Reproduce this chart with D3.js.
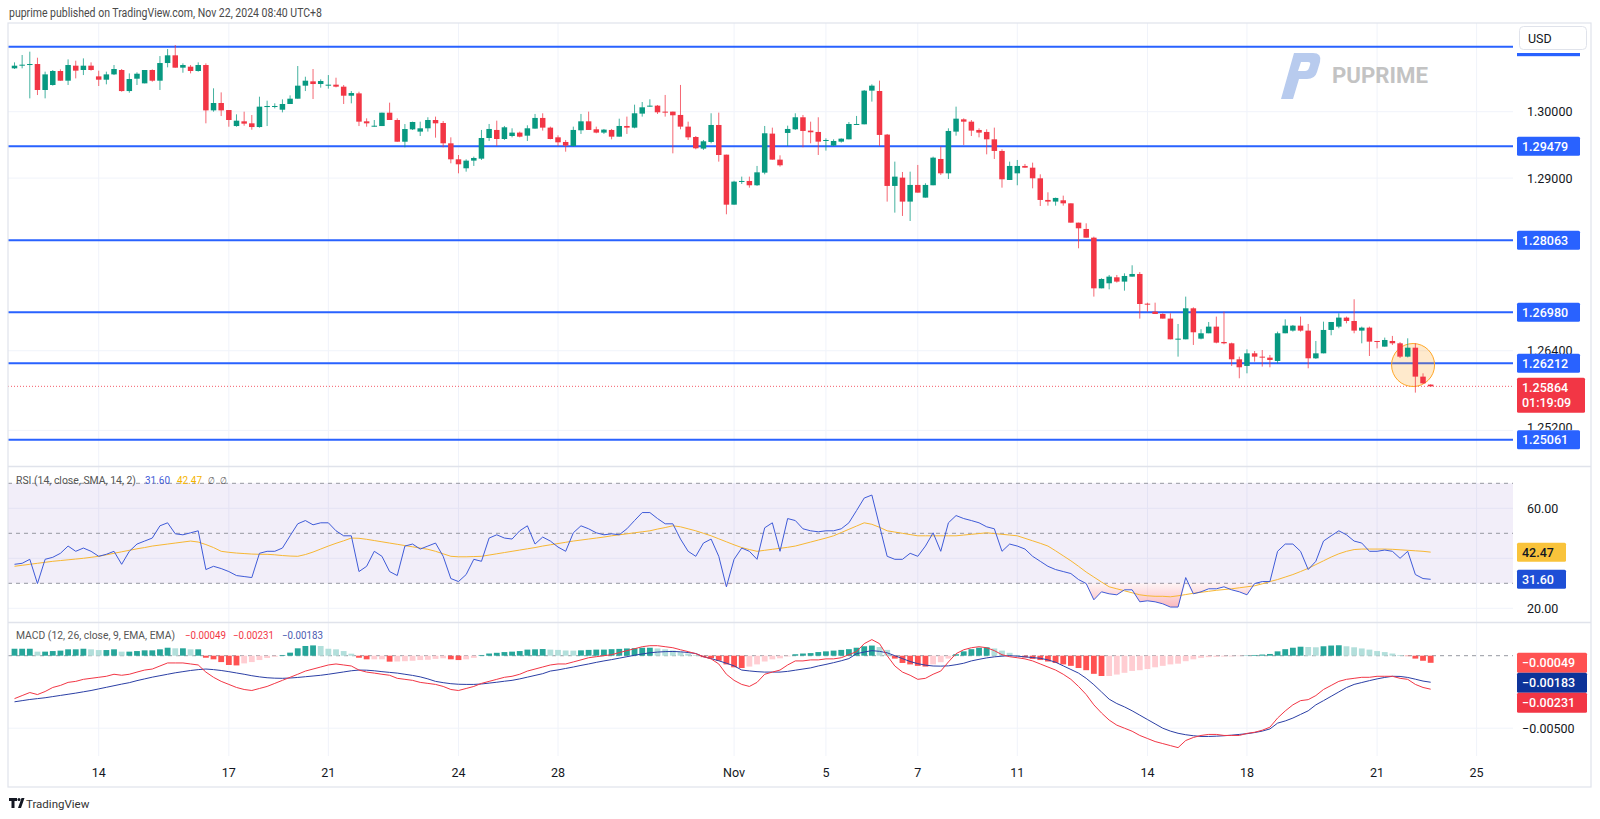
<!DOCTYPE html>
<html><head><meta charset="utf-8">
<script src="https://cdn.jsdelivr.net/npm/d3@7"></script>
<style>body{margin:0;background:#fff}svg{display:block;font-family:Roboto,"Noto Sans",sans-serif}</style>
</head><body><svg id="c" width="1600" height="819"></svg>
<script>
// ---------------- DATA (4H candles, GBPUSD) ----------------
const opens=[
1.30653,1.30698,1.30708,1.30718,1.30327,1.30402,1.30613,1.30467,1.30693,1.30628,
1.30693,1.30532,1.30482,1.30562,1.30628,1.30311,1.30497,1.30427,1.30628,1.30467,
1.30733,1.30849,1.30663,1.30678,1.30613,1.30703,1.30020,1.30131,1.30025,1.29784,
1.29855,1.29825,1.29769,1.30070,1.30081,1.30030,1.30116,1.30196,1.30392,1.30457,
1.30417,1.30402,1.30407,1.30377,1.30241,1.30276,1.29855,1.29779,1.29784,1.29985,
1.29875,1.29548,1.29734,1.29700,1.29750,1.29875,1.29830,1.29524,1.29283,1.29148,
1.29263,1.29293,1.29604,1.29725,1.29589,1.29634,1.29685,1.29639,1.29745,1.29906,
1.29760,1.29614,1.29544,1.29484,1.29720,1.29855,1.29735,1.29685,1.29725,1.29624,
1.29785,1.29760,1.29971,1.30076,1.30091,1.30001,1.30001,1.29951,1.29775,1.29619,
1.29444,1.29544,1.29800,1.29353,1.28600,1.28942,1.28957,1.28892,1.29082,1.29670,
1.29278,1.29680,1.29735,1.29916,1.29715,1.29695,1.29564,1.29489,1.29549,1.29584,
1.29805,1.29810,1.30317,1.30312,1.29655,1.28882,1.29007,1.28646,1.28897,1.28706,
1.28892,1.29288,1.29072,1.29700,1.29885,1.29850,1.29725,1.29695,1.29584,1.29409,
1.28972,1.29072,1.29183,1.29157,1.28997,1.28671,1.28646,1.28666,1.28620,1.28329,
1.28234,1.28103,1.27340,1.27416,1.27506,1.27441,1.27516,1.27556,1.27109,1.26989,
1.26954,1.26884,1.26572,1.26572,1.27039,1.26582,1.26663,1.26763,1.26532,1.26512,
1.26271,1.26171,1.26361,1.26311,1.26296,1.26246,1.26663,1.26703,1.26778,1.26703,
1.26286,1.26361,1.26713,1.26763,1.26899,1.26848,1.26703,1.26748,1.26547,1.26462,
1.26547,1.26512,1.26311,1.26446,1.26010,1.25890];
const highs=[
1.30743,1.30854,1.30904,1.30813,1.30603,1.30628,1.30638,1.30788,1.30768,1.30803,
1.30743,1.30618,1.30603,1.30703,1.30643,1.30577,1.30593,1.30628,1.30638,1.30838,
1.30944,1.31004,1.30728,1.30703,1.30743,1.30728,1.30352,1.30291,1.30025,1.29960,
1.30000,1.29950,1.30226,1.30166,1.30126,1.30186,1.30246,1.30688,1.30527,1.30643,
1.30487,1.30552,1.30512,1.30402,1.30311,1.30301,1.29900,1.29875,1.29985,1.30136,
1.29900,1.29814,1.29850,1.29850,1.29916,1.29926,1.29860,1.29614,1.29348,1.29283,
1.29323,1.29725,1.29815,1.29865,1.29785,1.29750,1.29700,1.29795,1.29966,1.29976,
1.29775,1.29644,1.29574,1.29775,1.29966,1.30001,1.29775,1.29740,1.29740,1.29895,
1.29926,1.30106,1.30146,1.30187,1.30101,1.30252,1.30001,1.30403,1.29850,1.29634,
1.29574,1.29976,1.29986,1.29353,1.28960,1.29022,1.29022,1.29183,1.29785,1.29760,
1.29343,1.29790,1.29976,1.29951,1.29850,1.29916,1.29599,1.29584,1.29599,1.29845,
1.29936,1.30327,1.30412,1.30468,1.29665,1.29248,1.29092,1.29097,1.29198,1.28922,
1.29323,1.29474,1.29750,1.30076,1.29900,1.29875,1.29750,1.29735,1.29760,1.29434,
1.29248,1.29273,1.29213,1.29233,1.29057,1.28786,1.28706,1.28736,1.28620,1.28329,
1.28319,1.28118,1.27491,1.27541,1.27541,1.27566,1.27687,1.27586,1.27124,1.27124,
1.26964,1.26964,1.26803,1.27215,1.27054,1.26723,1.26833,1.26914,1.26989,1.26522,
1.26311,1.26421,1.26396,1.26411,1.26336,1.26688,1.26873,1.26788,1.26914,1.26803,
1.26547,1.26838,1.26833,1.26964,1.26914,1.27175,1.26763,1.26763,1.26547,1.26598,
1.26623,1.26530,1.26587,1.26512,1.26060,1.25895];
const lows=[
1.30643,1.30653,1.30201,1.30251,1.30201,1.30392,1.30467,1.30402,1.30502,1.30552,
1.30618,1.30387,1.30412,1.30552,1.30301,1.30286,1.30402,1.30427,1.30452,1.30327,
1.30668,1.30663,1.30587,1.30577,1.30603,1.29825,1.30000,1.29935,1.29774,1.29774,
1.29789,1.29729,1.29759,1.29784,1.30050,1.29990,1.30116,1.30196,1.30311,1.30191,
1.30362,1.30347,1.30367,1.30116,1.30126,1.29784,1.29774,1.29774,1.29784,1.29875,
1.29548,1.29463,1.29724,1.29634,1.29700,1.29609,1.29464,1.29223,1.29072,1.29097,
1.29183,1.29273,1.29559,1.29484,1.29574,1.29614,1.29614,1.29559,1.29745,1.29715,
1.29584,1.29484,1.29398,1.29474,1.29665,1.29725,1.29675,1.29665,1.29584,1.29624,
1.29665,1.29750,1.29926,1.30076,1.29966,1.29926,1.29373,1.29735,1.29574,1.29434,
1.29424,1.29524,1.29248,1.28455,1.28600,1.28912,1.28856,1.28882,1.29057,1.29278,
1.29173,1.29484,1.29725,1.29464,1.29524,1.29348,1.29414,1.29484,1.29534,1.29584,
1.29800,1.29810,1.30152,1.29484,1.28646,1.28480,1.28430,1.28354,1.28781,1.28706,
1.28892,1.29047,1.28987,1.29639,1.29499,1.29634,1.29614,1.29358,1.29288,1.28856,
1.28972,1.28892,1.29157,1.28846,1.28580,1.28585,1.28585,1.28585,1.28329,1.27943,
1.28103,1.27215,1.27340,1.27325,1.27426,1.27305,1.27516,1.26884,1.26989,1.26954,
1.26884,1.26572,1.26311,1.26572,1.26487,1.26572,1.26663,1.26512,1.26497,1.26171,
1.25985,1.26060,1.26236,1.26161,1.26151,1.26211,1.26663,1.26688,1.26688,1.26136,
1.26276,1.26361,1.26633,1.26738,1.26813,1.26663,1.26512,1.26321,1.26436,1.26462,
1.26487,1.26290,1.26300,1.25769,1.25899,1.25860];
const closes=[
1.30693,1.30708,1.30718,1.30327,1.30562,1.30613,1.30467,1.30703,1.30618,1.30693,
1.30628,1.30482,1.30562,1.30643,1.30311,1.30492,1.30572,1.30628,1.30467,1.30733,
1.30849,1.30663,1.30703,1.30613,1.30703,1.30020,1.30131,1.30020,1.29875,1.29865,
1.29820,1.29769,1.30076,1.30086,1.30086,1.30116,1.30196,1.30392,1.30467,1.30417,
1.30462,1.30407,1.30377,1.30241,1.30281,1.29850,1.29825,1.29789,1.29985,1.29875,
1.29548,1.29739,1.29845,1.29750,1.29875,1.29825,1.29524,1.29283,1.29208,1.29263,
1.29303,1.29604,1.29740,1.29589,1.29765,1.29685,1.29624,1.29750,1.29906,1.29760,
1.29589,1.29539,1.29489,1.29725,1.29855,1.29725,1.29685,1.29730,1.29624,1.29785,
1.29760,1.29976,1.30066,1.30091,1.29991,1.29991,1.29946,1.29775,1.29614,1.29449,
1.29554,1.29800,1.29348,1.28600,1.28947,1.28957,1.28892,1.29087,1.29675,1.29278,
1.29193,1.29740,1.29916,1.29710,1.29690,1.29549,1.29574,1.29559,1.29594,1.29815,
1.29815,1.30317,1.30392,1.29650,1.28882,1.29022,1.28646,1.28897,1.28781,1.28897,
1.29308,1.29072,1.29710,1.29895,1.29850,1.29715,1.29685,1.29584,1.29409,1.28982,
1.29183,1.29183,1.29157,1.28997,1.28671,1.28646,1.28701,1.28620,1.28329,1.28244,
1.28103,1.27340,1.27481,1.27516,1.27441,1.27526,1.27556,1.27104,1.27094,1.26954,
1.26884,1.26572,1.26582,1.27039,1.26678,1.26663,1.26763,1.26522,1.26512,1.26271,
1.26151,1.26361,1.26311,1.26296,1.26261,1.26663,1.26778,1.26778,1.26703,1.26286,
1.26361,1.26713,1.26833,1.26899,1.26848,1.26703,1.26748,1.26537,1.26532,1.26562,
1.26512,1.26311,1.26446,1.26010,1.25909,1.25864];

const rsiValues=[
37.6,38,39.6,29.9,39.6,40.4,42,44.9,42.8,44.1,
42.8,40.8,41.6,42.8,37.6,42.8,45.7,46.9,48.1,53,
54.2,49.8,49.4,50.2,51,35.5,36.8,35.9,34.7,33.1,
32.7,32.3,42,42.8,42.8,44.1,49,53.8,55.1,53.4,
54.2,54.2,51,49,49,34.7,36.8,42.8,40.8,34.7,
33.1,44.9,45.7,43.7,44.9,46.1,40.8,31.9,30.7,33.5,
39.6,38.8,48.1,49.4,48.1,47.7,51,53,45.7,48.5,
46.9,44.5,42.8,50.2,53,51.8,50.2,49.4,49.8,49.4,
51.8,55.1,58.3,58.3,55.9,53.8,53.8,47.7,42.8,40.8,
46.1,47.7,40.8,28.6,39.6,44.1,42.8,39.6,52.2,54.2,
42.8,55.9,55.1,51.8,51,50.6,51,51,51.8,54.2,
59.1,64.1,65.3,53,40.8,39.6,39.6,42,40.8,44.9,
50.2,42.8,54.2,57.1,55.9,55.1,54.2,52.6,51.8,42.8,
45.7,44.9,43.7,40.8,38.8,36.8,35.5,34.7,33.9,31.5,
29.9,23.4,26.6,25.8,25.4,27.4,27.4,22.6,23,22.6,
21.8,20.5,20.5,32.3,25.8,26.6,27.8,27.8,28.6,27.4,
26.6,25.4,29.9,30.7,30.7,42.8,45.7,45.7,42.8,35.5,
38.8,46.9,49,51,49.4,46.9,46.1,42.8,42.8,43.3,
42.8,40,42.8,33.5,31.9,31.6];
const rsiMA=[
36.8,37.2,37.6,38,38.4,38.8,39.1,39.4,39.7,40,
40.4,40.8,41.4,42,42.6,43.2,43.8,44.3,44.9,45.3,
45.7,46.1,46.5,46.9,46.5,45.5,44.3,42.8,42.4,42.1,
41.9,41.7,41.6,41.6,41.4,41.1,40.9,40.8,41.5,42.5,
43.7,44.9,46,47,48.1,48,47.6,47.1,46.6,46.1,
45.6,45.1,44.6,44.1,43.6,42.8,41.8,40.8,40.6,40.6,
40.7,40.8,41.3,41.8,42.3,42.8,43.3,43.8,44.3,44.9,
45.4,45.9,46.4,46.9,47.3,47.7,48.1,48.5,49,49.4,
49.8,50.2,50.6,51,51.7,52.3,53,52.6,51.8,51,
50,49,47.8,46.6,45.4,44.3,43.5,42.8,43.2,43.6,
44,44.4,44.9,45.7,46.5,47.3,48.1,49,50.3,51.6,
52.9,54.2,53.6,52.4,51,50.5,50,49.5,49,49,
49,49,49,49,49.3,49.6,49.9,50.2,49.9,49.6,
49.3,49,48,47,46,44.9,43,41,39,36.8,
34.5,32.5,30.5,28.6,27.8,27,26.2,25.4,25,24.8,
24.8,24.6,25,25.5,26,26.4,26.8,27.2,27.5,27.8,
28.2,28.6,29,29.8,30.7,31.5,32.5,33.5,34.7,36,
37.5,39,40.5,41.8,42.8,43.5,43.7,43.7,43.7,43.7,
43.6,43.4,43.2,43,42.8,42.47];

const macdLine=[
-0.00296,-0.00275,-0.00254,-0.00268,-0.00247,-0.00219,-0.00205,-0.00184,-0.00177,-0.00163,
-0.00156,-0.00149,-0.00142,-0.00128,-0.00135,-0.00128,-0.00113,-0.00099,-0.00092,-0.00071,
-0.00050,-0.00050,-0.00050,-0.00057,-0.00064,-0.00113,-0.00149,-0.00177,-0.00198,-0.00219,
-0.00233,-0.00240,-0.00226,-0.00212,-0.00191,-0.00170,-0.00149,-0.00128,-0.00106,-0.00092,
-0.00078,-0.00064,-0.00057,-0.00064,-0.00071,-0.00099,-0.00113,-0.00120,-0.00128,-0.00135,
-0.00156,-0.00163,-0.00170,-0.00184,-0.00191,-0.00198,-0.00212,-0.00233,-0.00240,-0.00226,
-0.00212,-0.00191,-0.00177,-0.00163,-0.00149,-0.00142,-0.00128,-0.00106,-0.00092,-0.00078,
-0.00064,-0.00057,-0.00057,-0.00043,-0.00029,-0.00014,-0.00007,0.00000,0.00007,0.00021,
0.00035,0.00048,0.00062,0.00069,0.00069,0.00062,0.00055,0.00041,0.00028,0.00014,
-0.00007,-0.00022,-0.00057,-0.00128,-0.00170,-0.00198,-0.00212,-0.00184,-0.00128,-0.00113,
-0.00099,-0.00064,-0.00036,-0.00036,-0.00029,-0.00029,-0.00022,-0.00022,-0.00014,0.00007,
0.00028,0.00083,0.00111,0.00083,0.00000,-0.00071,-0.00113,-0.00135,-0.00163,-0.00156,
-0.00128,-0.00106,-0.00043,0.00014,0.00041,0.00055,0.00062,0.00055,0.00035,0.00007,
-0.00007,-0.00014,-0.00022,-0.00036,-0.00057,-0.00078,-0.00099,-0.00128,-0.00163,-0.00212,
-0.00268,-0.00339,-0.00395,-0.00444,-0.00479,-0.00500,-0.00521,-0.00550,-0.00571,-0.00592,
-0.00606,-0.00620,-0.00634,-0.00585,-0.00564,-0.00550,-0.00543,-0.00543,-0.00550,-0.00550,
-0.00550,-0.00536,-0.00528,-0.00514,-0.00493,-0.00430,-0.00381,-0.00339,-0.00310,-0.00303,
-0.00275,-0.00233,-0.00205,-0.00177,-0.00163,-0.00156,-0.00149,-0.00149,-0.00142,-0.00142,
-0.00142,-0.00156,-0.00163,-0.00198,-0.00219,-0.00231];
const signalLine=[
-0.00318,-0.00310,-0.00302,-0.00296,-0.00290,-0.00282,-0.00274,-0.00266,-0.00258,-0.00249,
-0.00240,-0.00229,-0.00218,-0.00207,-0.00196,-0.00186,-0.00172,-0.00160,-0.00148,-0.00138,
-0.00128,-0.00118,-0.00110,-0.00102,-0.00096,-0.00092,-0.00096,-0.00102,-0.00110,-0.00119,
-0.00128,-0.00138,-0.00146,-0.00152,-0.00155,-0.00156,-0.00154,-0.00150,-0.00145,-0.00140,
-0.00135,-0.00128,-0.00120,-0.00112,-0.00104,-0.00099,-0.00100,-0.00104,-0.00110,-0.00115,
-0.00120,-0.00128,-0.00136,-0.00146,-0.00160,-0.00177,-0.00186,-0.00193,-0.00197,-0.00198,
-0.00198,-0.00195,-0.00189,-0.00183,-0.00176,-0.00170,-0.00160,-0.00148,-0.00136,-0.00124,
-0.00106,-0.00098,-0.00088,-0.00078,-0.00067,-0.00057,-0.00046,-0.00036,-0.00027,-0.00017,
-0.00007,0.00003,0.00012,0.00020,0.00025,0.00028,0.00029,0.00027,0.00022,0.00015,
-0.00007,-0.00020,-0.00035,-0.00052,-0.00070,-0.00099,-0.00105,-0.00110,-0.00113,-0.00113,
-0.00113,-0.00108,-0.00100,-0.00092,-0.00084,-0.00071,-0.00060,-0.00048,-0.00035,-0.00020,
0.00014,0.00025,0.00035,0.00030,0.00020,0.00000,-0.00020,-0.00040,-0.00055,-0.00065,
-0.00071,-0.00072,-0.00070,-0.00062,-0.00052,-0.00036,-0.00025,-0.00015,-0.00008,-0.00003,
0.00000,-0.00003,-0.00008,-0.00013,-0.00018,-0.00029,-0.00045,-0.00070,-0.00095,-0.00120,
-0.00156,-0.00200,-0.00250,-0.00300,-0.00330,-0.00353,-0.00380,-0.00410,-0.00440,-0.00470,
-0.00500,-0.00520,-0.00535,-0.00545,-0.00552,-0.00557,-0.00557,-0.00555,-0.00552,-0.00548,
-0.00543,-0.00538,-0.00530,-0.00520,-0.00505,-0.00465,-0.00450,-0.00430,-0.00405,-0.00380,
-0.00339,-0.00310,-0.00280,-0.00250,-0.00220,-0.00198,-0.00185,-0.00172,-0.00160,-0.00150,
-0.00142,-0.00143,-0.00150,-0.00162,-0.00175,-0.00183];
const histogram=[
0.00048,0.00048,0.00048,0.00028,0.00028,0.00032,0.00035,0.00044,0.00044,0.00048,
0.00044,0.00039,0.00039,0.00044,0.00028,0.00028,0.00032,0.00037,0.00037,0.00044,
0.00055,0.00051,0.00051,0.00044,0.00044,-0.00014,-0.00025,-0.00044,-0.00064,-0.00067,
-0.00053,-0.00044,-0.00030,-0.00016,-0.00007,0.00005,0.00021,0.00051,0.00067,0.00071,
0.00067,0.00048,0.00044,0.00032,0.00014,-0.00014,-0.00025,-0.00025,-0.00025,-0.00041,
-0.00040,-0.00038,-0.00035,-0.00030,-0.00028,-0.00022,-0.00018,-0.00025,-0.00030,-0.00025,
-0.00015,0.00005,0.00015,0.00020,0.00025,0.00028,0.00032,0.00042,0.00044,0.00046,
0.00042,0.00040,0.00036,0.00035,0.00037,0.00040,0.00042,0.00042,0.00045,0.00047,
0.00050,0.00052,0.00055,0.00055,0.00050,0.00044,0.00036,0.00025,0.00015,0.00005,
-0.00010,-0.00018,-0.00035,-0.00060,-0.00080,-0.00085,-0.00075,-0.00060,-0.00040,-0.00025,
-0.00018,-0.00005,0.00010,0.00015,0.00018,0.00025,0.00030,0.00035,0.00040,0.00045,
0.00055,0.00065,0.00070,0.00060,0.00040,-0.00020,-0.00050,-0.00060,-0.00070,-0.00075,
-0.00060,-0.00045,-0.00020,0.00010,0.00030,0.00045,0.00055,0.00058,0.00050,0.00035,
0.00020,0.00005,-0.00012,-0.00022,-0.00030,-0.00040,-0.00050,-0.00060,-0.00070,-0.00085,
-0.00100,-0.00125,-0.00140,-0.00140,-0.00130,-0.00118,-0.00105,-0.00100,-0.00092,-0.00080,
-0.00070,-0.00060,-0.00055,-0.00038,-0.00025,-0.00015,-0.00010,-0.00008,-0.00006,-0.00005,
-0.00003,0.00002,0.00005,0.00008,0.00012,0.00030,0.00045,0.00055,0.00062,0.00060,
0.00058,0.00065,0.00070,0.00072,0.00065,0.00058,0.00050,0.00042,0.00032,0.00025,
0.00015,0.00005,-0.00003,-0.00020,-0.00035,-0.00049];

const levels=[1.30979,1.29479,1.28063,1.26980,1.26212,1.25061];
const lastPrice=1.25864, countdown="01:19:09";
const circleIdx=182.7, circlePrice=1.26185;
const priceTicks=[1.30,1.29,1.264,1.252];
const rsiTicks=[60,20];
const macdTicks=[-0.005];
const dateTickIdx=[11,28,41,58,71,94,106,118,131,148,161,178,191];
const dateLabels=["14","17","21","24","28","Nov","5","7","11","14","18","21","25"];

// ---------------- LAYOUT ----------------
const svg=d3.select("#c");
const L=8,R=1513,FR=1591;
const P={t:23,b:466}, RS={t:467,b:622}, MC={t:623,b:756}, FB=787;
const x=d3.scaleLinear().domain([0,185]).range([14.5,14.5+185*7.655]);
const yP=d3.scaleLinear().domain([1.25,1.31]).range([443.7,45.3]);
const yR=d3.scaleLinear().domain([20,70]).range([608.3,483.3]);
const yM=d3.scaleLinear().domain([-0.005,0]).range([728.2,655.7]);
const GREEN="#089981",RED="#f23645",BLUE="#2962ff",GRID="#f0f3fa",TXT="#131722";
const idx=d3.range(closes.length);
const f5=d3.format(".5f");
const defs=svg.append("defs");
[["cp",P],["cr",RS],["cm",MC]].forEach(([id,p])=>defs.append("clipPath").attr("id",id)
  .append("rect").attr("x",L).attr("y",p.t).attr("width",R-L).attr("height",p.b-p.t));
const g1=defs.append("linearGradient").attr("id","os").attr("x1",0).attr("x2",0).attr("y1",0).attr("y2",1);
g1.append("stop").attr("offset","0%").attr("stop-color","rgba(242,54,69,0.05)");
g1.append("stop").attr("offset","100%").attr("stop-color","rgba(242,54,69,0.35)");

svg.append("rect").attr("width",1600).attr("height",819).attr("fill","#fff");

// gridlines
const grid=svg.append("g");
grid.selectAll("line.v").data(dateTickIdx).join("line")
  .attr("x1",d=>x(d)).attr("x2",d=>x(d)).attr("y1",P.t).attr("y2",MC.b)
  .attr("stroke",GRID).attr("stroke-width",1);
grid.selectAll("line.hp").data(priceTicks).join("line").attr("class","hp")
  .attr("x1",L).attr("x2",R).attr("y1",d=>yP(d)).attr("y2",d=>yP(d)).attr("stroke",GRID);
grid.selectAll("line.hr").data([20,40,60]).join("line").attr("class","hr")
  .attr("x1",L).attr("x2",R).attr("y1",d=>yR(d)).attr("y2",d=>yR(d)).attr("stroke",GRID);
grid.append("line").attr("x1",L).attr("x2",R).attr("y1",yM(-0.005)).attr("y2",yM(-0.005)).attr("stroke",GRID);

// ---------------- PRICE PANE ----------------
const pp=svg.append("g").attr("clip-path","url(#cp)");
pp.append("line").attr("x1",L).attr("x2",R).attr("y1",yP(lastPrice)).attr("y2",yP(lastPrice))
  .attr("stroke",RED).attr("stroke-dasharray","1,2").attr("opacity",0.8);
pp.selectAll("line.lvl").data(levels).join("line").attr("class","lvl")
  .attr("x1",L).attr("x2",R).attr("y1",d=>yP(d)).attr("y2",d=>yP(d))
  .attr("stroke",BLUE).attr("stroke-width",2);
pp.append("circle").attr("cx",x(circleIdx)).attr("cy",yP(circlePrice)).attr("r",21.5)
  .attr("fill","rgba(255,152,0,0.2)").attr("stroke","#ffa726").attr("stroke-width",1);
const cg=pp.selectAll("g.c").data(idx).join("g");
cg.append("line").attr("x1",i=>x(i)).attr("x2",i=>x(i))
  .attr("y1",i=>yP(highs[i])).attr("y2",i=>yP(lows[i]))
  .attr("stroke",i=>closes[i]>=opens[i]?GREEN:RED).attr("stroke-width",1).attr("opacity",0.75);
cg.append("rect").attr("x",i=>x(i)-2.75).attr("width",5.5)
  .attr("y",i=>yP(Math.max(opens[i],closes[i])))
  .attr("height",i=>Math.max(1,yP(Math.min(opens[i],closes[i]))-yP(Math.max(opens[i],closes[i]))))
  .attr("fill",i=>closes[i]>=opens[i]?GREEN:RED);

// watermark
const wm=svg.append("g");
wm.append("path").attr("d","M1281,99 L1294,53 L1313,53 Q1322,53 1320,62 L1317,72 Q1315,79 1307,79 L1299,79 L1293,99 Z M1301,62 L1298,71 L1305,71 Q1308,71 1309,68 L1310,65 Q1311,62 1308,62 Z")
  .attr("fill","#b8cbee").attr("fill-rule","evenodd");
wm.append("text").attr("x",1332).attr("y",83).attr("font-size",22).attr("font-weight",700)
  .attr("fill","#c3c3c3").attr("textLength",96).attr("lengthAdjust","spacingAndGlyphs").text("PUPRIME");

// ---------------- RSI PANE ----------------
const rp=svg.append("g").attr("clip-path","url(#cr)");
rp.append("rect").attr("x",L).attr("width",R-L).attr("y",yR(70)).attr("height",yR(30)-yR(70))
  .attr("fill","rgba(126,87,194,0.1)");
rp.selectAll("line.d").data([70,50,30]).join("line")
  .attr("x1",L).attr("x2",R).attr("y1",d=>yR(d)).attr("y2",d=>yR(d))
  .attr("stroke","#9598a1").attr("stroke-dasharray","4,4");
rp.append("path").datum(idx)
  .attr("d",d3.area().x(i=>x(i)).y0(yR(30)).y1(i=>yR(Math.min(30,rsiValues[i]))))
  .attr("fill","url(#os)");
rp.append("path").datum(idx).attr("d",d3.line().x(i=>x(i)).y(i=>yR(rsiMA[i])))
  .attr("fill","none").attr("stroke","#f7b733").attr("stroke-width",1);
rp.append("path").datum(idx).attr("d",d3.line().x(i=>x(i)).y(i=>yR(rsiValues[i])))
  .attr("fill","none").attr("stroke","#3f5bd8").attr("stroke-width",1);

// ---------------- MACD PANE ----------------
const mp=svg.append("g").attr("clip-path","url(#cm)");
mp.append("line").attr("x1",L).attr("x2",R).attr("y1",yM(0)).attr("y2",yM(0))
  .attr("stroke","#9598a1").attr("stroke-dasharray","4,4");
function hcol(i){const v=histogram[i],p=i>0?histogram[i-1]:v;
  return v>=0?(v>=p?"#26a69a":"#b2dfdb"):(v<p?"#ff5252":"#ffcdd2");}
mp.selectAll("rect.h").data(idx).join("rect")
  .attr("x",i=>x(i)-2.9).attr("width",5.8)
  .attr("y",i=>Math.min(yM(0),yM(histogram[i])))
  .attr("height",i=>Math.abs(yM(histogram[i])-yM(0)))
  .attr("fill",hcol);
mp.append("path").datum(idx).attr("d",d3.line().x(i=>x(i)).y(i=>yM(signalLine[i])))
  .attr("fill","none").attr("stroke","#2b3fa5").attr("stroke-width",1);
mp.append("path").datum(idx).attr("d",d3.line().x(i=>x(i)).y(i=>yM(macdLine[i])))
  .attr("fill","none").attr("stroke","#f23645").attr("stroke-width",1);

// ---------------- FRAME ----------------
const fr=svg.append("g").attr("fill","none").attr("stroke","#e0e3eb");
fr.append("rect").attr("x",L).attr("y",P.t).attr("width",FR-L).attr("height",FB-P.t).attr("stroke-width",1.2);
fr.append("line").attr("x1",L).attr("x2",FR).attr("y1",P.b+0.5).attr("y2",P.b+0.5).attr("stroke-width",1.5);
fr.append("line").attr("x1",L).attr("x2",FR).attr("y1",RS.b+0.5).attr("y2",RS.b+0.5).attr("stroke-width",1.5);

// ---------------- AXES TEXT ----------------
// clip for tick labels partly hidden behind the line tags
defs.append("clipPath").attr("id","ca").append("rect").attr("x",1515).attr("y",P.t).attr("width",80)
  .attr("height",yP(1.25061)-9.5-P.t);
const ax=svg.append("g").attr("font-size",12.5).attr("fill",TXT);
ax.append("g").attr("clip-path","url(#ca)").selectAll("text.pt").data(priceTicks).join("text")
  .attr("x",1527).attr("y",d=>yP(d)+(d<1.255?1.8:4.5)).text(d=>f5(d));
ax.selectAll("text.rt").data(rsiTicks).join("text").attr("x",1527).attr("y",d=>yR(d)+4.5).text(d=>d.toFixed(2));
ax.selectAll("text.mt").data(macdTicks).join("text").attr("x",1522).attr("y",d=>yM(d)+4.5).text(d=>"\u2212"+f5(-d));
ax.selectAll("text.dt").data(dateTickIdx).join("text").attr("x",d=>x(d)).attr("y",777)
  .attr("text-anchor","middle").text((d,i)=>dateLabels[i]);

function tag(y,h,w,bg,lines,fg){
  const gg=svg.append("g");
  gg.append("rect").attr("x",1517).attr("y",y-h/2).attr("width",w).attr("height",h).attr("fill",bg).attr("rx",1.5);
  lines.forEach((t,k)=>gg.append("text").attr("x",1522).attr("y",y-h/2+14+k*15).attr("font-size",12.5)
    .attr("fill",fg).attr("font-weight",500).text(t));
}
// top level: its tag sits under the USD box, only a strip shows
svg.append("rect").attr("x",1517).attr("y",yP(levels[0])-9.5).attr("width",63).attr("height",19).attr("fill",BLUE);
levels.slice(1).forEach(v=>tag(yP(v),19,63,BLUE,[f5(v)],"#fff"));
tag(yP(lastPrice)+9,35,68,RED,[f5(lastPrice),countdown],"#fff");
svg.append("rect").attr("x",1515).attr("y",24).attr("width",75).attr("height",29).attr("fill","#fff");
svg.append("rect").attr("x",1519.5).attr("y",26.5).attr("width",67).attr("height",23).attr("rx",4)
  .attr("fill","#fff").attr("stroke","#e0e3eb");
svg.append("text").attr("x",1528).attr("y",42.5).attr("font-size",12.5).attr("fill",TXT).text("USD");

tag(yR(rsiMA[rsiMA.length-1]),19,49,"#f9c33b",[rsiMA[rsiMA.length-1].toFixed(2)],TXT);
tag(yR(rsiValues[rsiValues.length-1]),19,49,"#1e4fd6",[rsiValues[rsiValues.length-1].toFixed(2)],"#fff");
const hv=histogram[histogram.length-1], sv=signalLine[signalLine.length-1], mv=macdLine[macdLine.length-1];
const mtags=[{v:hv,c:"#ff5252"},{v:sv,c:"#0e3399"},{v:mv,c:"#f23645"}].map(d=>({...d,y:yM(d.v)})).sort((a,b)=>a.y-b.y);
mtags.forEach((d,k)=>{ if(k>0&&d.y<mtags[k-1].y+20) d.y=mtags[k-1].y+20;
  tag(d.y,20,70,d.c,["\u2212"+f5(-d.v)],"#fff");});

// ---------------- LEGENDS ----------------
svg.append("text").attr("x",9).attr("y",17).attr("font-size",12.5).attr("fill","#4a4a4a")
  .attr("textLength",313).attr("lengthAdjust","spacingAndGlyphs")
  .text("puprime published on TradingView.com, Nov 22, 2024 08:40 UTC+8");
function leg(xp,yp,t,c,len){svg.append("text").attr("x",xp).attr("y",yp).attr("font-size",10.3).attr("fill",c)
  .attr("textLength",len).attr("lengthAdjust","spacingAndGlyphs").text(t);}
leg(16,484,"RSI (14, close, SMA, 14, 2)","#555",120);
leg(145,484,rsiValues[rsiValues.length-1].toFixed(2),"#3f5bd8",25);
leg(177,484,rsiMA[rsiMA.length-1].toFixed(2),"#f5b400",25);
leg(208,484,"\u2205","#555",7);
leg(220,484,"\u2205","#555",7);
leg(16,639,"MACD (12, 26, close, 9, EMA, EMA)","#555",159);
leg(185,639,"\u2212"+f5(-hv),"#f23645",41);
leg(233,639,"\u2212"+f5(-mv),"#f23645",41);
leg(282,639,"\u2212"+f5(-sv),"#4a5ab0",41);

// TradingView footer
const tv=svg.append("g").attr("fill","#131722");
tv.append("path").attr("d","M9,798 h8 v3 h-2.5 v7 h-3 v-7 h-2.5 z M18,808 l3.5,-10 h3 l-3.5,10 z");
tv.append("circle").attr("cx",19).attr("cy",799.5).attr("r",1.5);
tv.append("text").attr("x",26).attr("y",807.5).attr("font-size",11.5).attr("fill","#333").text("TradingView");
</script></body></html>
